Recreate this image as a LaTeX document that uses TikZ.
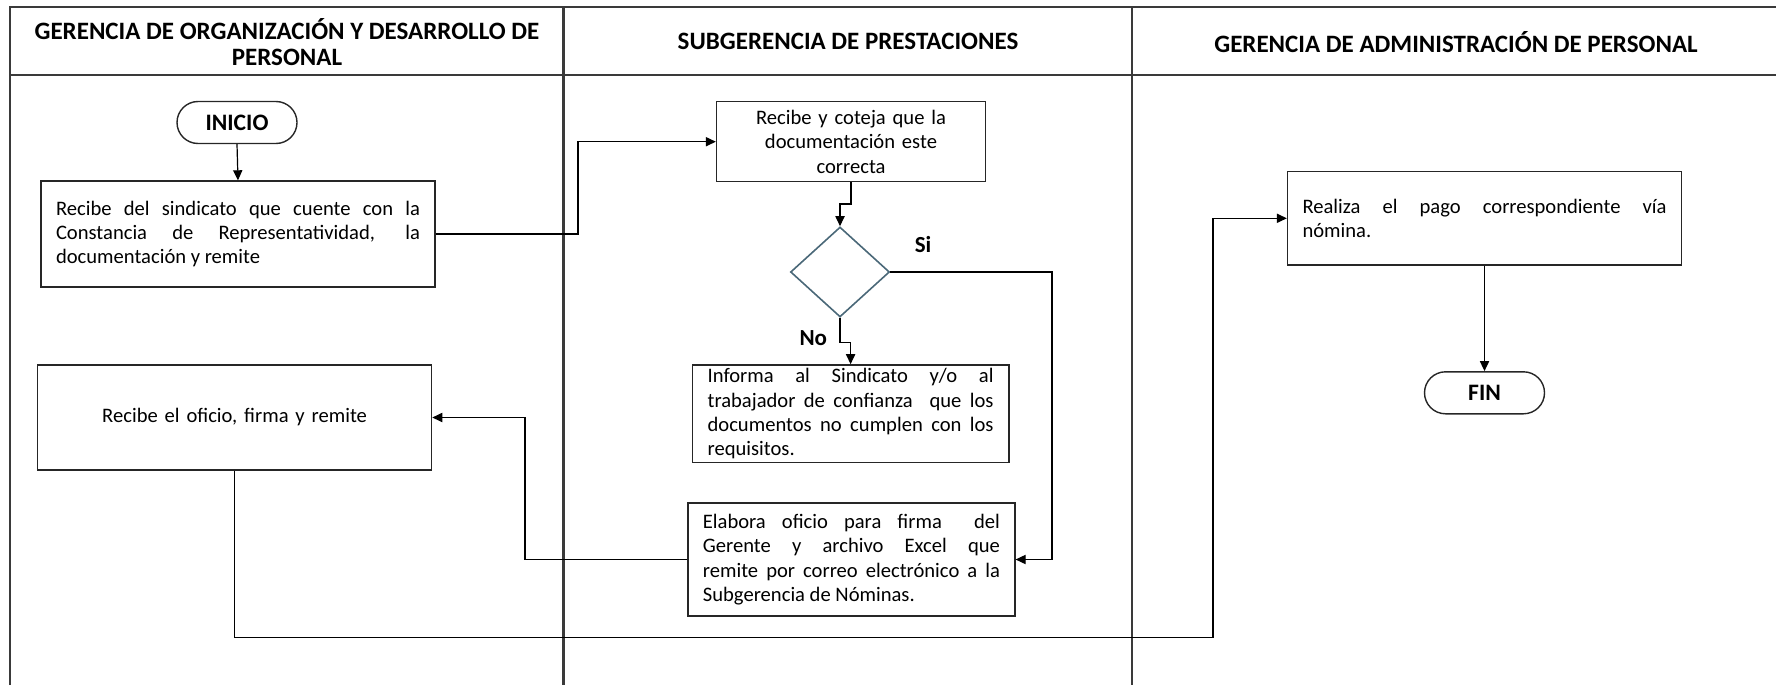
\documentclass[tikz,border=0pt]{standalone}
\usepackage{fontspec}
\setmainfont{Carlito}
\usetikzlibrary{arrows.meta,shapes.geometric}
\definecolor{lanecol}{HTML}{3A3A3A}
\definecolor{diacol}{HTML}{4A6878}
\tikzset{
  lane/.style={draw=lanecol,line width=1.1pt},
  hdr/.style={font=\fontsize{12.5}{13}\selectfont\bfseries,align=center,inner sep=0pt},
  procbox/.style={draw=black!85,line width=0.7pt,rectangle,inner xsep=7.5pt,inner ysep=1pt,
    font=\fontsize{10.3}{12.2}\selectfont},
  term/.style={draw=black!85,line width=0.7pt,rectangle,rounded corners=10.5pt,
    minimum height=21pt,inner sep=0pt,font=\fontsize{11.8}{12}\selectfont\bfseries},
  decision/.style={draw=diacol,line width=0.8pt,diamond,inner sep=0pt,
    minimum width=49.5pt,minimum height=45pt},
  arr/.style={draw=black,line width=0.6pt,-{Triangle[length=5pt,width=4.6pt]}},
  lbl/.style={font=\fontsize{11.5}{12}\selectfont\bfseries,inner sep=0pt}
}
\begin{document}
\begin{tikzpicture}[x=0.5pt,y=-0.5pt]
\useasboundingbox (0,0) rectangle (1776,685);
% lanes
\draw[lane] (9.6,685) -- (9.6,6.7) -- (1776,6.7);
\draw[lane] (9.6,75) -- (1776,75);
\draw[lane] (563.5,6.7) -- (563.5,685);
\draw[lane] (1132,6.7) -- (1132,685);
\node[hdr] (h1) at (287,41.7) {GERENCIA DE ORGANIZACIÓN Y DESARROLLO DE\\PERSONAL};
\node[hdr] (h2) at (848,41.7) {SUBGERENCIA DE PRESTACIONES};
\node[hdr] (h3) at (1456,41.7) {GERENCIA DE ADMINISTRACIÓN DE PERSONAL};
% nodes
\node[term,minimum width=60pt] (ini) at (237,122.5) {INICIO};
\node[procbox,minimum width=197pt,minimum height=53pt,text width=182pt,align=justify] (b1) at (238,234)
  {Recibe del sindicato que cuente con la\linebreak Constancia de Representatividad, la\linebreak documentación y remite};
\node[procbox,minimum width=134.5pt,minimum height=40pt,text width=119.5pt,align=center] (b2) at (851,141.7)
  {Recibe y coteja que la\\documentación este\\correcta};
\node[decision] (d) at (840,272) {};
\node[procbox,minimum width=158.3pt,minimum height=48.9pt,text width=143pt,align=justify,inner ysep=0pt] (b3) at (850.6,413.8)
  {Informa al Sindicato y/o al\linebreak trabajador de confianza\ \ que los\linebreak documentos no cumplen con los\linebreak requisitos.};
\node[procbox,minimum width=163.5pt,minimum height=56.5pt,text width=148.5pt,align=justify] (b4) at (851.4,559.5)
  {Elabora oficio para firma\ \ del\linebreak Gerente y archivo Excel que\linebreak remite por correo electrónico a la\linebreak Subgerencia de Nóminas.};
\node[procbox,minimum width=197pt,minimum height=52.5pt,text width=182pt,align=center] (b5) at (234.6,417.5)
  {Recibe el oficio, firma y remite};
\node[procbox,minimum width=197pt,minimum height=46.7pt,text width=182pt,align=justify] (b6) at (1484.5,218.3)
  {Realiza el pago correspondiente vía\linebreak nómina.};
\node[term,minimum width=60pt] (fin) at (1484.5,392.8) {FIN};
\node[lbl] (si) at (923,245) {Si};
\node[lbl] (no) at (813.3,337.7) {No};
\coordinate (t1) at (1213,637.3);
% connectors
\draw[arr] (ini.south) -- (b1.north);
\draw[arr] (b1.east) -- ++(142.3,0) |- (b2.west);
\draw[arr] (b2.south) -- ++(0,21.6) -| (d.north);
\draw[arr] (d.east) -- ++(161.6,0) |- (b4.east);
\draw[arr] (d.south) -- ++(0,25) -| (b3.north);
\draw[arr] (b4.west) -- ++(-162.3,0) |- (b5.east);
\draw[arr] (b5.south) |- (t1) |- (b6.west);
\draw[arr] (b6.south) -- (fin.north);
\end{tikzpicture}
\end{document}
